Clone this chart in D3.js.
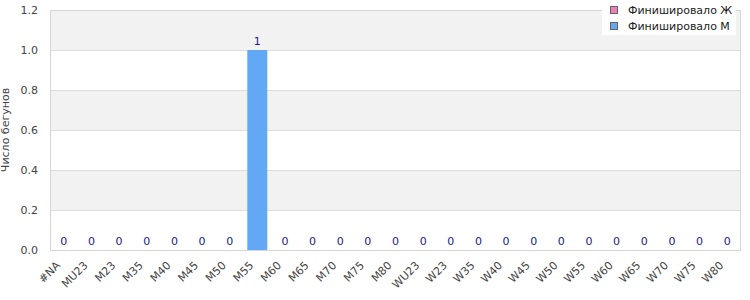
<!DOCTYPE html>
<html>
<head>
<meta charset="utf-8">
<script src="https://cdn.jsdelivr.net/npm/d3@7"></script>
<style>
  body { margin: 0; background: #fff; }
  svg, svg text { font-family: "DejaVu Sans", sans-serif; }
</style>
</head>
<body>
<div id="chart"></div>
<script>
let categories = ["#NA", "MU23", "M23", "M35", "M40", "M45", "M50", "M55", "M60", "M65",
  "M70", "M75", "M80", "WU23", "W23", "W35", "W40", "W45", "W50", "W55", "W60",
  "W65", "W70", "W75", "W80"];
let finishedW = [0, 0, 0, 0, 0, 0, 0, 0, 0, 0, 0, 0, 0, 0, 0, 0, 0, 0, 0, 0, 0, 0, 0, 0, 0];
let finishedM = [0, 0, 0, 0, 0, 0, 0, 1, 0, 0, 0, 0, 0, 0, 0, 0, 0, 0, 0, 0, 0, 0, 0, 0, 0];
let seriesNames = ["Финишировало Ж", "Финишировало М"];
let yTicks = [0, 0.2, 0.4, 0.6, 0.8, 1.0, 1.2];

let width = 750,
  height = 300,
  margin = { top: 10, right: 9, bottom: 50, left: 50 };

let colors = ["#f07cb8", "#62a8f5"];

let svg = d3
  .select("#chart")
  .append("svg")
  .attr("width", width)
  .attr("height", height);

let xScale = d3
  .scaleBand()
  .domain(categories)
  .range([margin.left, width - margin.right]);

let yScale = d3
  .scaleLinear()
  .domain([0, 1.2])
  .range([height - margin.bottom, margin.top]);

// alternating bands
let bands = yTicks.slice(0, -1).map((d, i) => [d, yTicks[i + 1]]);
svg
  .append("g")
  .selectAll("rect")
  .data(bands)
  .enter()
  .append("rect")
  .attr("x", margin.left)
  .attr("width", width - margin.left - margin.right)
  .attr("y", (d) => yScale(d[1]))
  .attr("height", (d) => yScale(d[0]) - yScale(d[1]))
  .attr("fill", (d, i) => (i % 2 == 0 ? "#ffffff" : "#f2f2f2"));

svg
  .append("g")
  .selectAll("line")
  .data(yTicks)
  .enter()
  .append("line")
  .attr("x1", margin.left)
  .attr("x2", width - margin.right)
  .attr("y1", (d) => Math.round(yScale(d)) + 0.5)
  .attr("y2", (d) => Math.round(yScale(d)) + 0.5)
  .attr("stroke", "#dddddd");

svg
  .append("rect")
  .attr("x", margin.left + 0.5)
  .attr("y", margin.top + 0.5)
  .attr("width", width - margin.left - margin.right - 1)
  .attr("height", height - margin.top - margin.bottom)
  .attr("fill", "none")
  .attr("stroke", "#d6d6d6");

// stacked bars
let rows = categories.map((c, i) => ({ cat: c, w: finishedW[i], m: finishedM[i] }));
let stacked = d3.stack().keys(["w", "m"])(rows);
let barW = 20;

svg
  .append("g")
  .selectAll("g")
  .data(stacked)
  .enter()
  .append("g")
  .attr("fill", (d, i) => colors[i])
  .selectAll("rect")
  .data((d) => d)
  .enter()
  .append("rect")
  .attr("x", (d) => xScale(d.data.cat) + xScale.bandwidth() / 2 - barW / 2)
  .attr("width", barW)
  .attr("y", (d) => yScale(d[1]))
  .attr("height", (d) => yScale(d[0]) - yScale(d[1]));

svg
  .append("g")
  .selectAll("text")
  .data(rows)
  .enter()
  .append("text")
  .attr("x", (d) => xScale(d.cat) + xScale.bandwidth() / 2)
  .attr("y", (d) => yScale(d.w + d.m) - 5)
  .attr("text-anchor", "middle")
  .attr("fill", "#1a1a8a")
  .style("font-size", "11px")
  .text((d) => d.w + d.m);

// axes
let yAxisG = svg
  .append("g")
  .attr("transform", "translate(" + (margin.left - 9) + ",0)")
  .call(d3.axisLeft(yScale).tickValues(yTicks).tickFormat(d3.format(".1f")).tickSize(0));
yAxisG.select(".domain").remove();
yAxisG.selectAll("text").attr("fill", "#444").style("font-size", "11px");

// x labels, rotated
let xLabelY = height - margin.bottom + 16;
svg
  .append("g")
  .selectAll("text")
  .data(categories)
  .enter()
  .append("text")
  .attr("transform", (d) =>
    "translate(" + (xScale(d) + xScale.bandwidth() / 2 - 3) + "," + xLabelY + ") rotate(-45)"
  )
  .attr("text-anchor", "end")
  .attr("fill", "#444")
  .style("font-size", "11px")
  .text((d) => d);

svg
  .append("text")
  .attr("transform", "translate(9," + (margin.top + (height - margin.top - margin.bottom) / 2) + ") rotate(-90)")
  .attr("text-anchor", "middle")
  .attr("fill", "#444")
  .style("font-size", "11px")
  .text("Число бегунов");

// legend
let legend = svg.append("g").attr("transform", "translate(602,0)");
legend
  .append("rect")
  .attr("width", 134)
  .attr("height", 35)
  .attr("fill", "#fff");
let items = legend
  .selectAll("g")
  .data(seriesNames)
  .enter()
  .append("g")
  .attr("transform", (d, i) => "translate(0," + i * 16 + ")");
items
  .append("rect")
  .attr("x", 8.5)
  .attr("y", 6.5)
  .attr("width", 7)
  .attr("height", 7)
  .attr("fill", (d, i) => colors[i])
  .attr("stroke", "#666");
items
  .append("text")
  .attr("x", 26)
  .attr("y", 10)
  .attr("dy", "0.35em")
  .attr("fill", "#222")
  .style("font-size", "11px")
  .text((d) => d);
</script>
</body>
</html>
